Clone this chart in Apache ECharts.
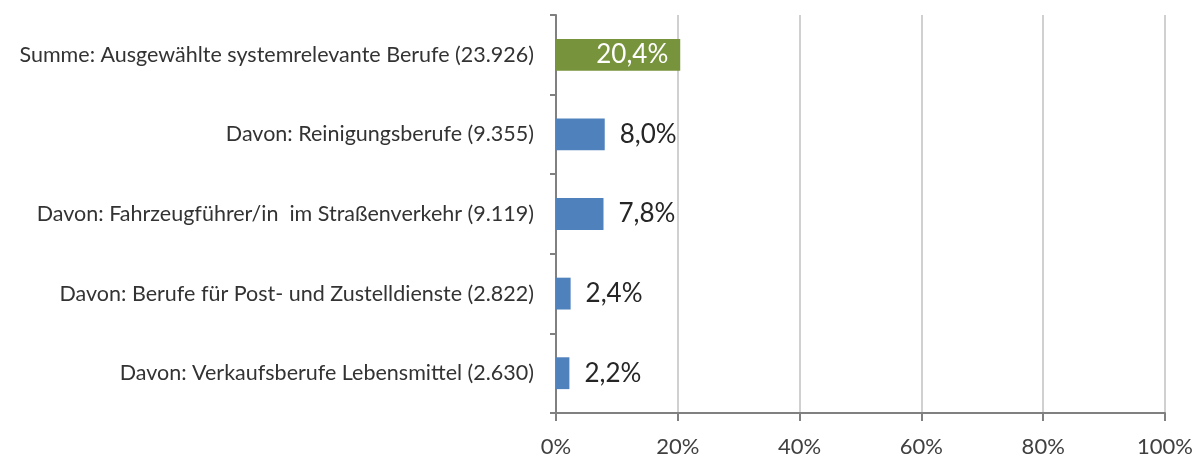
<!DOCTYPE html>
<html style="height: 100%">
<head>
  <meta charset="utf-8">
</head>
<body style="height: 100%; margin: 0; background: #fff">
  <div id="container" style="width: 1200px; height: 464px"></div>
  <script type="text/javascript" src="https://cdn.jsdelivr.net/npm/echarts@6/dist/echarts.min.js"></script>
  <script type="text/javascript">
    var categories = [
        'Summe: Ausgewählte systemrelevante Berufe (23.926)',
        'Davon: Reinigungsberufe (9.355)',
        'Davon: Fahrzeugführer/in  im Straßenverkehr (9.119)',
        'Davon: Berufe für Post- und Zustelldienste (2.822)',
        'Davon: Verkaufsberufe Lebensmittel (2.630)'
    ];
    var values = [20.4, 8.0, 7.8, 2.4, 2.2];
    var barColors = ['#77933C', '#4F81BD', '#4F81BD', '#4F81BD', '#4F81BD'];

    var dom = document.getElementById("container");
    var myChart = echarts.init(dom);
    var font = 'Lato';

    var data = values.map(function (v, i) {
        var d = {
            value: v,
            itemStyle: { color: barColors[i] }
        };
        if (i === 0) {
            // first bar carries its label inside, in white
            d.label = { position: 'insideRight', distance: 12, color: '#fff' };
        }
        return d;
    });

    var option = {
        animation: false,
        grid: { left: 556, right: 35, top: 15, bottom: 51 },
        xAxis: {
            type: 'value',
            min: 0,
            max: 100,
            interval: 20,
            axisLine: { show: true, lineStyle: { color: '#808080', width: 2 } },
            axisTick: { show: true, length: 8, lineStyle: { color: '#808080', width: 2 } },
            axisLabel: {
                margin: 23,
                color: '#404040',
                fontFamily: font,
                fontSize: 22,
                formatter: '{value}%'
            },
            splitLine: { show: true, lineStyle: { color: '#d0d0d0', width: 2 } }
        },
        yAxis: {
            type: 'category',
            inverse: true,
            data: categories,
            axisLine: { show: true, lineStyle: { color: '#808080', width: 2 } },
            axisTick: { show: true, length: 6, lineStyle: { color: '#808080', width: 2 } },
            axisLabel: {
                margin: 22,
                color: '#333',
                fontFamily: font,
                fontSize: 21.5
            }
        },
        series: [{
            type: 'bar',
            data: data,
            barWidth: '40%',
            label: {
                show: true,
                position: 'right',
                distance: 15,
                color: '#262626',
                fontFamily: font,
                fontSize: 26,
                formatter: function (p) {
                    return p.value.toFixed(1).replace('.', ',') + '%';
                }
            }
        }]
    };
    myChart.setOption(option);
  </script>
</body>
</html>
